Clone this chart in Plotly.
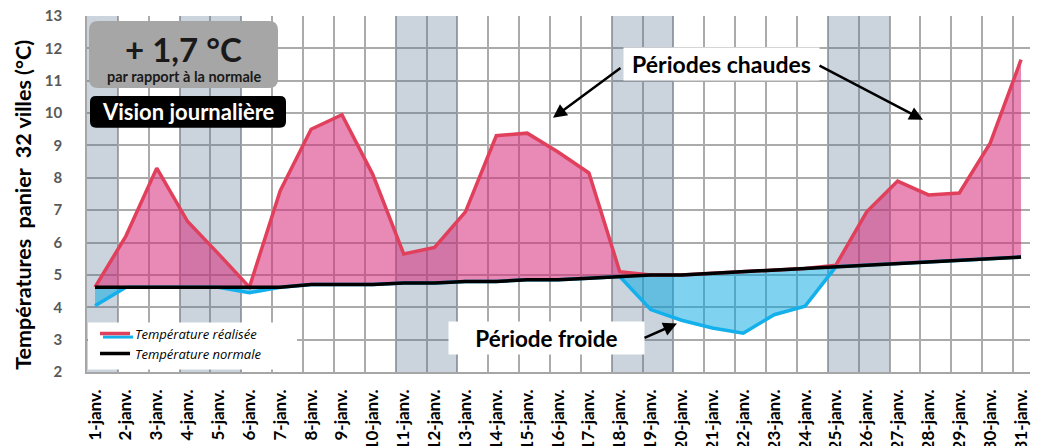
import plotly.graph_objects as go

# Données (lecture du graphique)
days = list(range(1, 32))
day_labels = [f"{d}-janv." for d in days]

temp_realisee = [4.05, 6.2, 8.3, 6.65, 5.65, 4.45, 7.6, 9.5, 9.95, 8.1,
                 5.65, 5.85, 6.95, 9.3, 9.38, 8.8, 8.15, 5.1, 3.93, 3.6,
                 3.36, 3.2, 3.77, 4.03, 5.3, 6.95, 7.9, 7.47, 7.53, 9.07,
                 11.65]
temp_normale = [4.62, 4.62, 4.62, 4.62, 4.62, 4.62, 4.62, 4.7, 4.7, 4.7,
                4.75, 4.75, 4.8, 4.8, 4.85, 4.85, 4.9, 4.95, 5.0, 5.0,
                5.05, 5.1, 5.15, 5.2, 5.25, 5.3, 5.35, 5.4, 5.45, 5.5,
                5.55]

# week-ends et jour férié (colonnes grisées)
jours_gris = [1, 4, 5, 11, 12, 18, 19, 25, 26]

Y_MIN, Y_MAX = 2, 13

# séries au-dessus / au-dessous de la normale
chaud = [max(r, n) for r, n in zip(temp_realisee, temp_normale)]
froid = [min(r, n) for r, n in zip(temp_realisee, temp_normale)]

FONT = "Lato"
RED = "#E0405C"
BLUE = "#13B0EC"

# la page html ajoute une marge de 8 px autour de la figure
PAGE_W, PAGE_H, BODY = 1041, 446, 8
# zone de tracé en pixels de la page
L, R, T, B = 87, 1030, 16, 372.5


def xp(px):
    return (px - L) / (R - L)


def yp(py):
    return (B - py) / (B - T)


def rounded(x0, y0, x1, y1, r):
    return (f"M {xp(x0 + r)},{yp(y0)} L {xp(x1 - r)},{yp(y0)} "
            f"Q {xp(x1)},{yp(y0)} {xp(x1)},{yp(y0 + r)} "
            f"L {xp(x1)},{yp(y1 - r)} Q {xp(x1)},{yp(y1)} {xp(x1 - r)},{yp(y1)} "
            f"L {xp(x0 + r)},{yp(y1)} Q {xp(x0)},{yp(y1)} {xp(x0)},{yp(y1 - r)} "
            f"L {xp(x0)},{yp(y0 + r)} Q {xp(x0)},{yp(y0)} {xp(x0 + r)},{yp(y0)} Z")


fig = go.Figure()

# remplissages
fig.add_trace(go.Scatter(x=days, y=temp_normale, mode='lines', line=dict(width=0),
                         hoverinfo='skip', showlegend=False))
fig.add_trace(go.Scatter(x=days, y=chaud, mode='lines', line=dict(width=0),
                         fill='tonexty', fillcolor='rgba(215,40,120,0.55)',
                         hoverinfo='skip', showlegend=False))
fig.add_trace(go.Scatter(x=days, y=temp_normale, mode='lines', line=dict(width=0),
                         hoverinfo='skip', showlegend=False))
fig.add_trace(go.Scatter(x=days, y=froid, mode='lines', line=dict(width=0),
                         fill='tonexty', fillcolor='rgba(0,168,228,0.5)',
                         hoverinfo='skip', showlegend=False))

# colonnes grisées
fig.add_trace(go.Bar(x=jours_gris, y=[Y_MAX - Y_MIN] * len(jours_gris), base=Y_MIN,
                     width=1, offset=-0.26,
                     marker=dict(color='rgba(82,112,142,0.3)', line=dict(width=0)),
                     hoverinfo='skip', showlegend=False))

# courbes
fig.add_trace(go.Scatter(x=days, y=chaud, mode='lines', name='Température réalisée',
                         line=dict(color=RED, width=3.5)))
fig.add_trace(go.Scatter(x=days, y=froid, mode='lines', line=dict(color=BLUE, width=3.5),
                         showlegend=False))
fig.add_trace(go.Scatter(x=days, y=temp_normale, mode='lines', name='Température normale',
                         line=dict(color='black', width=3.5)))

shapes = [
    dict(type='path', xref='paper', yref='paper', path=rounded(89, 21, 278, 88, 9),
         fillcolor='#A6A6A6', line=dict(width=0), layer='above'),
    dict(type='path', xref='paper', yref='paper', path=rounded(90, 96, 286, 128, 6),
         fillcolor='black', line=dict(width=0), layer='above'),
    # fond blanc de la légende
    dict(type='rect', xref='paper', yref='paper', x0=xp(88), x1=xp(297),
         y0=yp(370), y1=yp(323), fillcolor='white', line=dict(width=0), layer='above'),
    # trait bleu sous le trait rouge de la légende
    dict(type='line', xref='paper', yref='paper', x0=xp(103), x1=xp(133),
         y0=yp(337.5), y1=yp(337.5), line=dict(color=BLUE, width=3), layer='above'),
]

annotations = [
    dict(text='<b>+ 1,7 °C</b>', x=xp(183), y=yp(49), font=dict(size=33, color='#1A1A1A')),
    dict(text='<b>par rapport à la normale</b>', x=xp(184), y=yp(77),
         font=dict(size=14.5, color='#1A1A1A')),
    dict(text='<b>Vision journalière</b>', x=xp(188), y=yp(112),
         font=dict(size=22, color='white')),
    dict(text='<b>Périodes chaudes</b>', x=xp(721), y=yp(64), width=193, height=30,
         bgcolor='white', font=dict(size=23, color='black')),
    dict(text='<b>Période froide</b>', x=xp(546), y=yp(338), width=193, height=30,
         bgcolor='white', font=dict(size=22.5, color='black')),
    # titre de l'axe vertical
    dict(text='<b>Températures  panier  32 villes (°C)</b>', x=xp(23), y=yp(205),
         textangle=-90, font=dict(size=21.5, color='black')),
]
for a in annotations:
    a.update(xref='paper', yref='paper', showarrow=False,
             xanchor='center', yanchor='middle')
    a['font']['family'] = FONT

# flèches (tête en px, queue en px)
for hx, hy, tx, ty in [(553, 118, 622, 67), (923, 120, 818, 65), (677, 324, 643, 339)]:
    annotations.append(dict(text='', xref='paper', yref='paper', x=xp(hx), y=yp(hy),
                            axref='pixel', ayref='pixel', ax=tx - hx, ay=ty - hy,
                            showarrow=True, arrowhead=2, arrowsize=1.1,
                            arrowwidth=2.5, arrowcolor='black'))

grid = '#ABABAB'
fig.update_layout(
    width=PAGE_W - BODY, height=PAGE_H - BODY,
    margin=dict(l=L - BODY, r=PAGE_W - R, t=T - BODY, b=PAGE_H - B),
    plot_bgcolor='white', paper_bgcolor='white',
    font=dict(family=FONT),
    barmode='overlay',
    shapes=shapes,
    annotations=annotations,
    legend=dict(x=xp(95), y=yp(319), xanchor='left', yanchor='top',
                bgcolor='rgba(0,0,0,0)', tracegroupgap=0, traceorder='normal',
                font=dict(family='Open Sans', size=13, color='black', style='italic')),
    xaxis=dict(
        range=[0.74, 31.29], tickmode='array', tickvals=days, ticktext=day_labels,
        tickangle=-90, showgrid=False, zeroline=False, automargin=False,
        minor=dict(tick0=0.74, dtick=1, showgrid=True, gridcolor=grid, gridwidth=1.5),
        ticks='outside', ticklen=9, tickcolor='rgba(0,0,0,0)',
        ticklabeloverflow='allow',
        showline=True, linecolor='#A6A6A6', linewidth=1.5,
        tickfont=dict(size=17, color='black', weight='bold'),
    ),
    yaxis=dict(
        range=[Y_MIN, Y_MAX], tick0=Y_MIN, dtick=1, automargin=False,
        showgrid=True, gridcolor=grid, gridwidth=1.5, zeroline=False,
        ticks='outside', ticklen=20, tickcolor='rgba(0,0,0,0)',
        ticklabeloverflow='allow',
        showline=True, linecolor='#A6A6A6', linewidth=1.5,
        tickfont=dict(size=15, color='#595959', weight='bold'),
    ),
)

fig.write_html("out.html")
